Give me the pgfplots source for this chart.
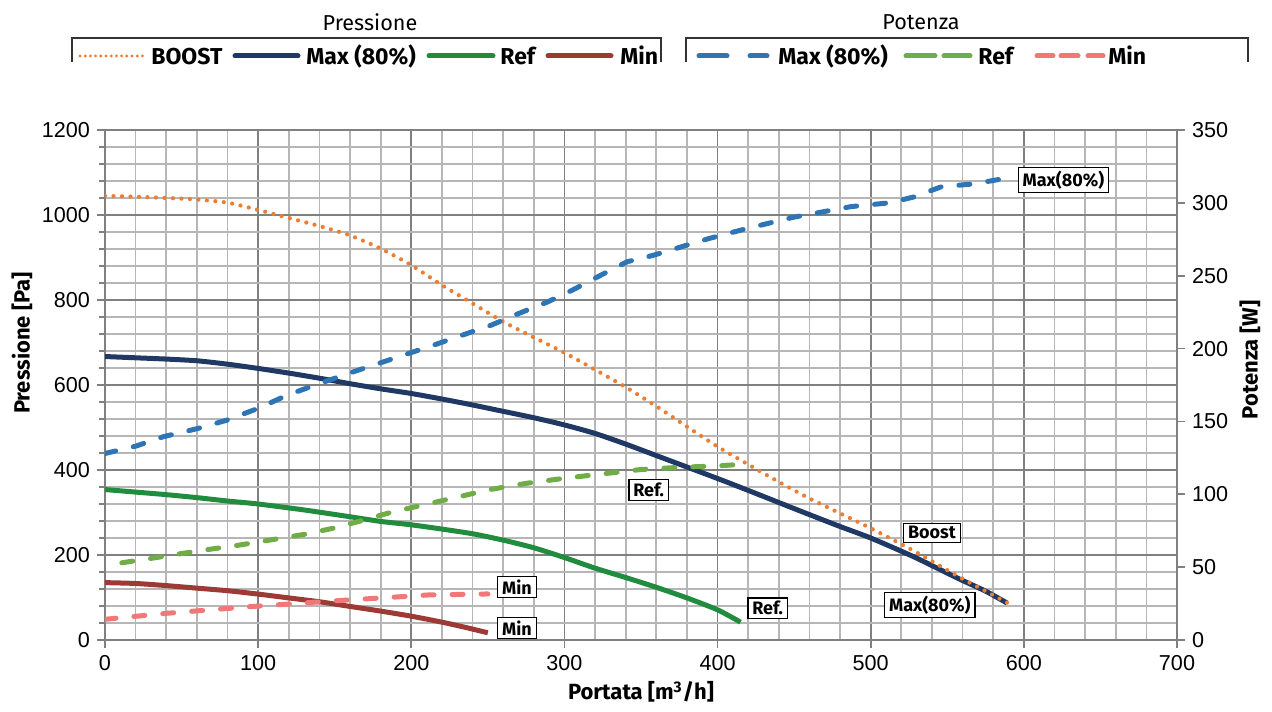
\documentclass[border=0pt]{standalone}
\usepackage{pgfplots}
\pgfplotsset{compat=1.18}
\usepackage{fontspec}
\setmainfont{Liberation Sans}
\newfontfamily\labfont{Fira Sans}
\definecolor{cBoost}{RGB}{237,125,49}
\definecolor{cMax}{RGB}{31,56,100}
\definecolor{cRef}{RGB}{34,140,62}
\definecolor{cMin}{RGB}{157,58,53}
\definecolor{pMax}{RGB}{46,117,182}
\definecolor{pRef}{RGB}{112,173,71}
\definecolor{pMin}{RGB}{240,120,120}
\definecolor{gridmaj}{RGB}{128,128,128}
\definecolor{gridmin}{RGB}{182,182,182}
\tikzset{
  boxlab/.style={draw=black, line width=0.6pt, fill=white, inner xsep=2.2pt, inner ysep=1.6pt, font=\labfont\bfseries\fontsize{9}{10}\selectfont},
  dashstyle/.style={line width=2.5pt, line cap=round, dash pattern=on 5.5pt off 9pt},
  legtxt/.style={anchor=base west, inner sep=0pt, font=\labfont\bfseries\fontsize{11.5}{13}\selectfont},
}
\begin{document}
\begin{tikzpicture}
\pgfplotsset{every axis/.append style={
  scale only axis, width=536pt, height=255pt, xmin=0, xmax=700,
  /pgf/number format/assume math mode=true,
  /pgf/number format/1000 sep={},
  tick label style={font=\fontsize{10.8}{12}\selectfont},
  axis line style={draw=gridmaj, line width=0.8pt},
  every tick/.style={draw=gridmaj, line width=0.8pt},
  tick align=outside, major tick length=4pt, minor tick length=3pt,
  label style={font=\labfont\bfseries\fontsize{11}{13}\selectfont},
}}
\begin{axis}[
  ymin=0, ymax=1200,
  xtick={0,100,...,700}, ytick={0,200,...,1200},
  minor x tick num=4, minor y tick num=4,
  grid=both,
  major grid style={draw=gridmaj, line width=0.85pt},
  minor grid style={draw=gridmin, line width=0.85pt},
  minor x tick style={draw=none},
  xtick pos=left, ytick pos=left,
  xlabel={Portata [m\textsuperscript{3}/h]},
  ylabel={Pressione [Pa]},
  xlabel style={at={(axis description cs:0.5,-0.102)}, anchor=center},
  ylabel style={at={(axis description cs:-0.0774,0.582)}, anchor=center},
]
% Max
\addplot[cMax, line width=2.5pt, smooth, tension=0.4] coordinates {
(0,667) (20,664) (40,661) (60,657) (80,649) (100,639) (120,628) (140,616) (160,603) (180,591) (200,580) (220,567) (240,553) (260,538) (280,523) (300,506) (320,486) (340,461) (360,434) (380,407) (400,380) (420,352) (441,322) (460,295) (480,267) (500,240) (528,196) (557,145) (575,115) (589,87)};
% Ref
\addplot[cRef, line width=2.5pt, smooth, tension=0.4] coordinates {
(0,354) (20,348) (40,342) (60,335) (80,327) (100,320) (130,306) (160,290) (180,279) (200,271) (220,261) (240,250) (260,235) (280,217) (300,194) (320,169) (340,147) (360,124) (380,99) (400,71) (415,42)};
% Min
\addplot[cMin, line width=2.5pt, smooth, tension=0.4] coordinates {
(0,135) (20,133) (40,128) (60,122) (80,116) (100,108) (120,99) (140,90) (160,79) (180,68) (200,56) (220,42) (235,30) (250,17)};
% BOOST
\addplot[cBoost, line width=2.1pt, line cap=round, dash pattern=on 0pt off 4.25pt, smooth, tension=0.4] coordinates {
(0,1045) (20,1043) (40,1040) (58,1037) (80,1029) (100,1012) (120,993) (140,974) (160,952) (180,921) (200,882) (220,835) (240,792) (260,749) (280,712) (300,676) (320,636) (340,595) (360,550) (380,502) (400,455) (420,413) (440,372) (460,333) (480,298) (500,263) (528,210) (557,150) (575,115) (590,86)};
\node[boxlab] at (axis cs:355,353) {Ref.};
\node[boxlab] at (axis cs:432.7,75) {Ref.};
\node[boxlab] at (axis cs:540,252) {Boost};
\node[boxlab] at (axis cs:538.6,82) {Max(80\%)};
\node[boxlab] at (axis cs:269,125) {Min};
\node[boxlab] at (axis cs:269,28) {Min};
\node[boxlab, anchor=west] at (axis cs:596,1082) {Max(80\%)};
\end{axis}
\begin{axis}[
  ymin=0, ymax=350,
  axis x line=none, axis y line*=right,
  ytick={0,50,...,350},
  ylabel={Potenza [W]},
  ylabel style={at={(axis description cs:1.068,0.549)}, anchor=center},
]
\addplot[pMax, dashstyle] coordinates {
(0,128) (20,133) (38,139.5) (60,145) (80,151) (100,159) (119,168) (140,176) (162,184) (185,192) (205,199) (215,202.5) (230,208) (252,216) (270,224) (289,232) (305,240) (324,250.5) (341,259.6) (358,264) (380,271) (395,275.7) (420,282.6) (449,290) (487,297.4) (512,300) (528,304) (546,311) (567,313) (589,317)};
\addplot[pRef, dashstyle] coordinates {
(11,53) (30,56) (51,59.5) (70,62.5) (88,65.2) (110,69) (130,72.5) (149,76.7) (168,82) (186,87.4) (205,92) (230,98) (250,103) (275,107.5) (300,111) (325,114) (350,117) (375,118.5) (400,119.5) (415,120.5)};
\addplot[pMin, dashstyle] coordinates {
(0,14.2) (40,18.3) (95,22.9) (149,26.8) (211,30.9) (250,31.6)};
\end{axis}
% legend
\begin{scope}[font=\labfont\fontsize{10.8}{12}\selectfont]
\node at (132.5pt,309pt) {Pressione};
\node at (408pt,309pt) {Potenza};
\end{scope}
\draw[black!80, line width=0.6pt] (-16.5pt,289pt) -- (-16.5pt,301pt) -- (278pt,301pt) -- (278pt,289pt);
\draw[black!80, line width=0.6pt] (290.5pt,289pt) -- (290.5pt,301pt) -- (571.5pt,301pt) -- (571.5pt,289pt);
\draw[cBoost, line width=1.6pt, line cap=round, dash pattern=on 0pt off 2.6pt] (-12.5pt,292pt) -- (20.5pt,292pt);
\node[legtxt] at (23pt,287.8pt) {BOOST};
\draw[cMax, line width=2.5pt, line cap=round] (65pt,292pt) -- (96.5pt,292pt);
\node[legtxt] at (100.5pt,287.8pt) {Max (80\%)};
\draw[cRef, line width=2.5pt, line cap=round] (162pt,292pt) -- (194pt,292pt);
\node[legtxt] at (197.5pt,287.8pt) {Ref};
\draw[cMin, line width=2.5pt, line cap=round] (221.5pt,292pt) -- (253pt,292pt);
\node[legtxt] at (257.5pt,287.8pt) {Min};
\draw[pMax, line width=2.5pt, line cap=round] (297pt,292pt) -- (311pt,292pt);
\draw[pMax, line width=2.5pt, line cap=round] (322.5pt,292pt) -- (331pt,292pt);
\node[legtxt] at (336.5pt,287.8pt) {Max (80\%)};
\draw[pRef, line width=2.5pt, line cap=round] (400.5pt,292pt) -- (415pt,292pt);
\draw[pRef, line width=2.5pt, line cap=round] (419.5pt,292pt) -- (432.5pt,292pt);
\node[legtxt] at (436.5pt,287.8pt) {Ref};
\draw[pMin, line width=2.5pt, line cap=round] (466pt,292pt) -- (474pt,292pt);
\draw[pMin, line width=2.5pt, line cap=round] (478pt,292pt) -- (486.5pt,292pt);
\draw[pMin, line width=2.5pt, line cap=round] (491.5pt,292pt) -- (499pt,292pt);
\node[legtxt] at (501.5pt,287.8pt) {Min};
\path[use as bounding box] (-52.5pt,-35.5pt) rectangle (583.5pt,320pt);
\end{tikzpicture}
\end{document}
